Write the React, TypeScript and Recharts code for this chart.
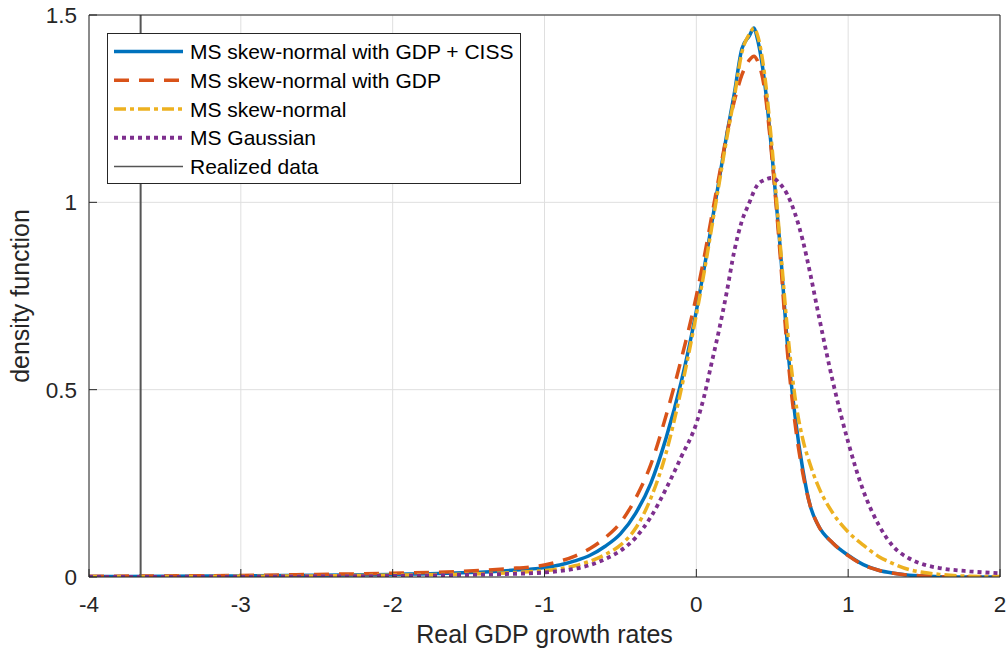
import React from 'react';
import {
  LineChart,
  Line,
  XAxis,
  YAxis,
  CartesianGrid,
  ReferenceLine,
  Legend,
} from 'recharts';

const growthGrid = [
  -4, -3.5, -3, -2.5, -2, -1.5, -1.25, -1, -0.9, -0.8, -0.7, -0.6, -0.5, -0.4, -0.3, -0.2, -0.1,
  0, 0.05, 0.1, 0.15, 0.2, 0.25, 0.3, 0.35, 0.38, 0.4, 0.45, 0.5, 0.55, 0.6, 0.65, 0.7, 0.75, 0.8,
  0.9, 1.0, 1.1, 1.2, 1.3, 1.4, 1.5, 1.6, 1.8, 2.0,
];

const gdpCissDensity = [
  0.001, 0.002, 0.003, 0.005, 0.007, 0.012, 0.017, 0.025, 0.032, 0.043, 0.058, 0.082, 0.115, 0.17, 0.25, 0.37, 0.52,
  0.71, 0.82, 0.94, 1.06, 1.18, 1.29, 1.41, 1.445, 1.465, 1.44, 1.32, 1.12, 0.89, 0.62, 0.43, 0.29, 0.19, 0.14,
  0.09, 0.058, 0.033, 0.018, 0.01, 0.005, 0.003, 0.001, 0, 0,
];

const gdpDensity = [
  0.002, 0.003, 0.004, 0.007, 0.01, 0.016, 0.022, 0.032, 0.042, 0.056, 0.076, 0.105, 0.145, 0.21, 0.3, 0.43, 0.58,
  0.75, 0.85, 0.96, 1.07, 1.18, 1.27, 1.34, 1.38, 1.39, 1.38, 1.3, 1.11, 0.87, 0.6, 0.41, 0.28, 0.19, 0.14,
  0.09, 0.057, 0.032, 0.018, 0.01, 0.005, 0.003, 0.001, 0, 0,
];

const skewNormalDensity = [
  0.0005, 0.001, 0.002, 0.003, 0.005, 0.008, 0.011, 0.017, 0.022, 0.03, 0.042, 0.06, 0.085, 0.13, 0.21, 0.33, 0.5,
  0.7, 0.81, 0.93, 1.05, 1.17, 1.28, 1.4, 1.45, 1.465, 1.45, 1.34, 1.14, 0.9, 0.66, 0.48, 0.37, 0.3, 0.245,
  0.17, 0.12, 0.085, 0.055, 0.035, 0.02, 0.012, 0.007, 0.002, 0.001,
];

const gaussianDensity = [
  0, 0.0005, 0.001, 0.002, 0.003, 0.006, 0.008, 0.012, 0.016, 0.022, 0.032, 0.048, 0.07, 0.105, 0.16, 0.235, 0.32,
  0.41, 0.48, 0.57, 0.66, 0.76, 0.87, 0.95, 1.0, 1.03, 1.045, 1.06, 1.065, 1.05, 1.02, 0.97, 0.9, 0.81, 0.71,
  0.52, 0.36, 0.23, 0.14, 0.08, 0.05, 0.033, 0.024, 0.015, 0.01,
];

const realizedGrowth = -3.66;

const xTicks = [-4, -3, -2, -1, 0, 1, 2];
const yTicks = [0, 0.5, 1, 1.5];

const data = growthGrid.map((x, i) => ({
  x,
  gdpCiss: gdpCissDensity[i],
  gdp: gdpDensity[i],
  skew: skewNormalDensity[i],
  gauss: gaussianDensity[i],
}));

const series = [
  { key: 'gdpCiss', name: 'MS skew-normal with GDP + CISS', color: '#0072BD', dash: undefined, width: 3.5 },
  { key: 'gdp', name: 'MS skew-normal with GDP', color: '#D95319', dash: '15 10', width: 3.5 },
  { key: 'skew', name: 'MS skew-normal', color: '#EDB120', dash: '12 4 4 4', width: 3.5 },
  { key: 'gauss', name: 'MS Gaussian', color: '#7E2F8E', dash: '4 4', width: 3.8 },
];

const AXIS = '#262626';
const FONT = '"Liberation Sans", Arial, Helvetica, sans-serif';

const LegendBox = () => {
  const items = [
    ...series,
    { key: 'realized', name: 'Realized data', color: '#555555', dash: undefined, width: 1.5 },
  ];
  return (
    <svg width={414} height={151} style={{ display: 'block', fontFamily: FONT }}>
      <rect x={0.5} y={0.5} width={413} height={150} fill="#ffffff" stroke={AXIS} strokeWidth={1} />
      {items.map((s, i) => {
        const cy = 18.5 + i * 28.75;
        return (
          <g key={s.key}>
            <line
              x1={7}
              x2={76}
              y1={cy}
              y2={cy}
              stroke={s.color}
              strokeWidth={s.width}
              strokeDasharray={s.dash}
            />
            <text x={83} y={cy} dy="0.36em" fontSize={21} fill="#000000">
              {s.name}
            </text>
          </g>
        );
      })}
    </svg>
  );
};

export default function App() {
  return (
    <div style={{ position: 'absolute', left: 0, top: 0, width: 1006, height: 656, background: '#ffffff' }}>
      <LineChart
        width={1006}
        height={656}
        data={data}
        margin={{ top: 14, right: 5, left: 0, bottom: 0 }}
        style={{ fontFamily: FONT }}
      >
        <CartesianGrid stroke="#dfdfdf" strokeWidth={1} />
        <XAxis
          dataKey="x"
          type="number"
          domain={[-4, 2]}
          ticks={xTicks}
          allowDataOverflow
          height={79}
          tickSize={-8}
          tickMargin={27}
          axisLine={{ stroke: AXIS }}
          tickLine={{ stroke: AXIS }}
          tick={{ fontSize: 22.5, fill: AXIS }}
          label={{
            value: 'Real GDP growth rates',
            position: 'insideBottom',
            offset: 13,
            fontSize: 25,
            fill: AXIS,
          }}
        />
        <XAxis
          xAxisId="top"
          orientation="top"
          dataKey="x"
          type="number"
          domain={[-4, 2]}
          ticks={xTicks}
          allowDataOverflow
          height={1}
          tickSize={-8}
          axisLine={{ stroke: AXIS }}
          tickLine={{ stroke: AXIS }}
          tick={false}
        />
        <YAxis
          type="number"
          domain={[0, 1.5]}
          ticks={yTicks}
          allowDataOverflow
          width={89}
          tickSize={-8}
          tickMargin={20}
          axisLine={{ stroke: AXIS }}
          tickLine={{ stroke: AXIS }}
          tick={{ fontSize: 22.5, fill: AXIS }}
          label={{
            value: 'density function',
            angle: -90,
            position: 'insideLeft',
            offset: 20,
            fontSize: 25,
            fill: AXIS,
            style: { textAnchor: 'middle' },
          }}
        />
        <YAxis
          yAxisId="right"
          orientation="right"
          type="number"
          domain={[0, 1.5]}
          ticks={yTicks}
          allowDataOverflow
          width={1}
          tickSize={-8}
          axisLine={{ stroke: AXIS }}
          tickLine={{ stroke: AXIS }}
          tick={false}
        />
        {series.map((s) => (
          <Line
            key={s.key}
            type="monotone"
            dataKey={s.key}
            name={s.name}
            stroke={s.color}
            strokeWidth={s.width}
            strokeDasharray={s.dash}
            dot={false}
            activeDot={false}
            isAnimationActive={false}
          />
        ))}
        <ReferenceLine x={realizedGrowth} stroke="#555555" strokeWidth={2} />
        <Legend
          layout="vertical"
          align="center"
          verticalAlign="middle"
          content={() => <LegendBox />}
          wrapperStyle={{ position: 'absolute', left: 107, top: 33, width: 414, height: 151 }}
        />
      </LineChart>
    </div>
  );
}
